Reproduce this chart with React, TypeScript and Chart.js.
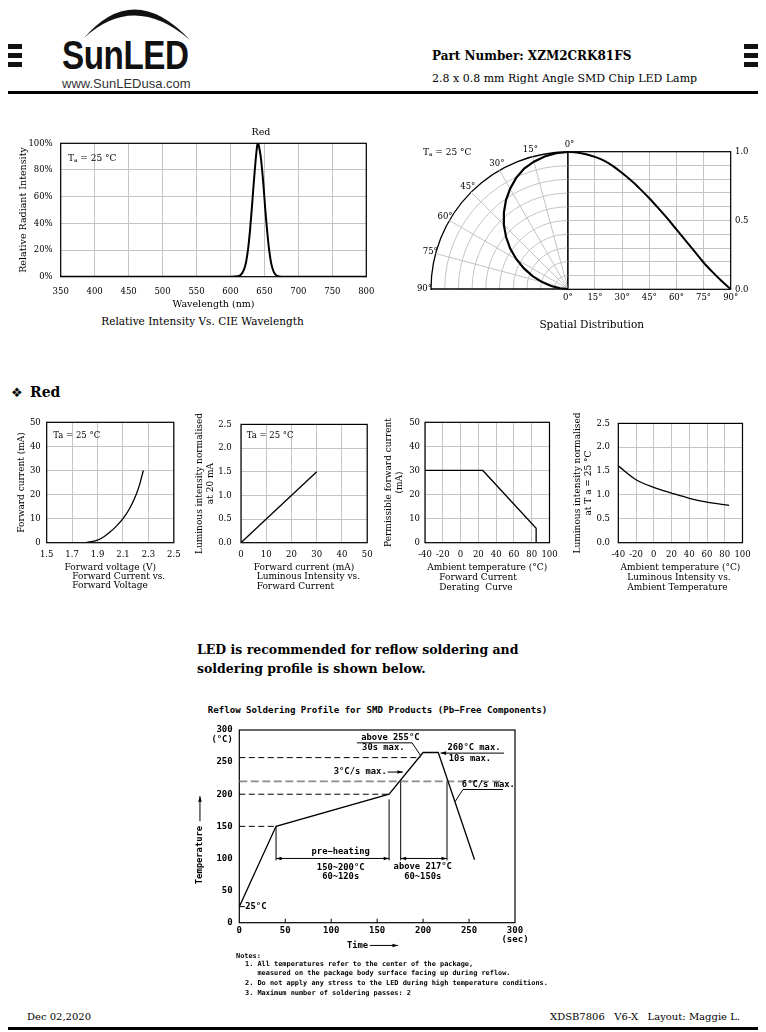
import React, { useEffect, useRef } from 'react';
import { Chart, registerables } from 'chart.js';

Chart.register(...registerables);

const SERIF = '"DejaVu Serif", "Liberation Serif", serif';
const SANS = '"Liberation Sans", Arial, sans-serif';
const MONO = '"DejaVu Sans Mono", "Liberation Mono", monospace';
const GRID = '#c4c4c4';

Chart.defaults.color = '#000';
Chart.defaults.font.family = SERIF;

// ---------------- data ----------------
const spectrumWavelength = [350, 600, 610, 615, 620, 623, 626, 629, 632, 635, 637, 639, 640, 641, 643, 645, 647, 649, 651, 653, 655, 657, 660, 663, 666, 670, 675, 800];
const spectrumIntensity = [0, 0, 0.3, 1.3, 5.5, 11, 21, 36, 55, 75, 87, 97, 100, 99.5, 95, 88, 78, 66, 52, 40, 29, 20, 10, 4.5, 1.7, 0.3, 0, 0];

const spatialAngle = [0, 5, 10, 15, 20, 25, 30, 35, 40, 45, 50, 55, 60, 65, 70, 75, 80, 85, 90];
const spatialIntensity = [1.0, 0.995, 0.982, 0.962, 0.935, 0.895, 0.845, 0.79, 0.728, 0.662, 0.59, 0.515, 0.435, 0.355, 0.275, 0.195, 0.125, 0.06, 0];
const spatialLabelAngles = [0, 15, 30, 45, 60, 75, 90];

const ivVoltage = [1.8, 1.85, 1.9, 1.95, 2.0, 2.05, 2.1, 2.15, 2.2, 2.23, 2.26];
const ivCurrent = [0, 0.4, 1.1, 2.5, 4.5, 7.0, 10.0, 14.0, 19.5, 24.0, 30.0];

const livCurrent = [0, 30];
const livIntensity = [0, 1.5];

const deratingTemp = [-40, 25, 85, 85];
const deratingCurrent = [30, 30, 6, 0];

const ltTemp = [-40, -20, 0, 20, 40, 60, 85];
const ltIntensity = [1.61, 1.32, 1.16, 1.04, 0.93, 0.85, 0.78];

const reflowTime = [0, 40, 163, 200, 216.5, 256];
const reflowTemp = [25, 150, 200, 265, 265, 98];
const guideTemp = [150, 200, 257, 220];
const guideEndTime = [40, 163, 197, 287];
const markerTime = [40, 163, 175.6, 226];
const markerTopTemp = [150, 192, 222, 220];
const markerBottomTemp = 97;
const reflowTickTimes = [50, 100, 150, 200, 250];

type Pt = [number, number];
const reflowLeaders: { pts: Pt[]; head: 'none' | 'end' | 'both' }[] = [
  { pts: [[40, 100], [163, 100]], head: 'both' },
  { pts: [[175.6, 100], [226, 100]], head: 'both' },
  { pts: [[128, 280], [188, 280], [197, 261]], head: 'none' },
  { pts: [[288, 264], [219, 264]], head: 'end' },
  { pts: [[161.5, 234.5], [178, 234.5]], head: 'end' },
  { pts: [[287, 207.4], [243.4, 207.4], [235, 189]], head: 'none' },
  { pts: [[0, 25], [6, 25]], head: 'none' },
  { pts: [[-42.8, 158], [-42.8, 197]], head: 'end' },
  { pts: [[142, -35.4], [172.6, -35.4]], head: 'end' },
];
const reflowLabels: { x: number; y: number; text: string; align?: CanvasTextAlign; rotate?: boolean }[] = [
  { x: 164.4, y: 288.3, text: 'above 255°C' },
  { x: 156.7, y: 272.2, text: '30s max.' },
  { x: 255.4, y: 273.1, text: '260°C max.' },
  { x: 251, y: 255.5, text: '10s max.' },
  { x: 160.4, y: 234.3, text: '3°C/s max.', align: 'right' },
  { x: 271, y: 215, text: '6°C/s max.' },
  { x: 110.3, y: 110.3, text: 'pre−heating' },
  { x: 110.3, y: 85, text: '150~200°C' },
  { x: 110.3, y: 70.9, text: '60~120s' },
  { x: 199.6, y: 86.5, text: 'above 217°C' },
  { x: 199.6, y: 71.9, text: '60~150s' },
  { x: 6.5, y: 25, text: '25°C', align: 'left' },
  { x: -7.2, y: 284.8, text: '(°C)', align: 'right' },
  { x: -42.8, y: 105.3, text: 'Temperature', rotate: true },
  { x: 128.6, y: -35.4, text: 'Time' },
];

// ---------------- helpers ----------------
type Rect = { left: number; top: number; width: number; height: number };
type Plot = { l: number; t: number; r: number; b: number };

function layoutFor(c: Rect, p: Plot, yRight = false) {
  return {
    padding: {
      top: p.t - c.top,
      bottom: 0,
      left: yRight ? p.l - c.left : 0,
      right: yRight ? 0 : c.left + c.width - p.r,
    },
    yWidth: yRight ? c.left + c.width - p.r : p.l - c.left,
    xHeight: c.top + c.height - p.b,
  };
}

const font = (size: number, family = SERIF, weight: any = 'normal', lineHeight = 1.2) => ({ size, family, weight, lineHeight });
const xy = (xs: number[], ys: number[]) => xs.map((x, i) => ({ x, y: ys[i] }));

const framePlugin = (width = 1.2) => ({
  id: 'frame',
  beforeDatasetsDraw(chart: any) {
    const { ctx, chartArea: a } = chart;
    ctx.save();
    ctx.strokeStyle = '#000';
    ctx.lineWidth = width;
    ctx.strokeRect(a.left, a.top, a.right - a.left, a.bottom - a.top);
    ctx.restore();
  },
});

const baseOptions = (pad: any) => ({
  responsive: false,
  animation: false,
  layout: { padding: pad },
  plugins: { legend: { display: false }, tooltip: { enabled: false } },
});

// ---------------- chart configs ----------------
const specRect: Rect = { left: 8, top: 118, width: 376, height: 192 };
const specPlot: Plot = { l: 60.7, t: 143.3, r: 370, b: 276.7 };
function spectrumConfig() {
  const L = layoutFor(specRect, specPlot);
  return {
    type: 'line',
    data: {
      datasets: [{
        data: xy(spectrumWavelength, spectrumIntensity), borderColor: '#000', borderWidth: 2,
        pointRadius: 0, fill: false, cubicInterpolationMode: 'monotone',
      }],
    },
    options: {
      ...baseOptions(L.padding),
      scales: {
        x: {
          type: 'linear', min: 350, max: 800,
          ticks: { stepSize: 50, autoSkip: false, maxRotation: 0, padding: 9.6, font: font(8.5) },
          grid: { color: GRID, drawTicks: false }, border: { display: false },
          title: { display: true, text: 'Wavelength (nm)', font: font(9.5), padding: 0 },
          afterFit: (s: any) => { s.height = L.xHeight; },
        },
        y: {
          min: 0, max: 100,
          ticks: { stepSize: 20, autoSkip: false, padding: 8, font: font(8.5), callback: (v: number) => v + '%' },
          grid: { color: GRID, drawTicks: false }, border: { display: false },
          title: { display: true, text: 'Relative Radiant Intensity', font: font(9.5), padding: { top: 9.6, bottom: 0 } },
          afterFit: (s: any) => { s.width = L.yWidth; },
        },
      },
    },
    plugins: [framePlugin(1.2)],
  };
}

const spatRect: Rect = { left: 560, top: 140, width: 200, height: 165 };
const spatPlot: Plot = { l: 567.7, t: 151.7, r: 730.7, b: 289.3 };
function spatialConfig() {
  const L = layoutFor(spatRect, spatPlot, true);
  return {
    type: 'line',
    data: {
      datasets: [{
        data: xy(spatialAngle, spatialIntensity), borderColor: '#000', borderWidth: 2,
        pointRadius: 0, fill: false, cubicInterpolationMode: 'monotone',
      }],
    },
    options: {
      ...baseOptions(L.padding),
      scales: {
        x: {
          type: 'linear', min: 0, max: 90,
          ticks: { stepSize: 15, autoSkip: false, maxRotation: 0, padding: 3, font: font(8.5), callback: (v: number) => v + '°' },
          grid: { color: GRID, drawTicks: false }, border: { display: false },
          afterFit: (s: any) => { s.height = L.xHeight; },
        },
        y: {
          position: 'right', min: 0, max: 1,
          ticks: {
            stepSize: 0.1, autoSkip: false, padding: 4.3, font: font(8.5),
            callback: (v: number) => (Math.abs(v * 2 - Math.round(v * 2)) < 1e-6 ? v.toFixed(1) : ''),
          },
          grid: { color: GRID, drawTicks: false }, border: { display: false },
          afterFit: (s: any) => { s.width = L.yWidth; },
        },
      },
    },
    plugins: [framePlugin(1.2)],
  };
}

const RADAR_STEPS = 72;
const radarRect: Rect = { left: 411, top: 132, width: 314, height: 314 };
function radarConfig() {
  const values: (number | null)[] = new Array(RADAR_STEPS).fill(null);
  spatialAngle.forEach((a, i) => { values[(RADAR_STEPS - a / 5) % RADAR_STEPS] = spatialIntensity[i]; });
  const labels = Array.from({ length: RADAR_STEPS }, (_, i) => String(i * 5));
  const leftIndex = (i: number) => i === 0 || i >= 54;
  return {
    type: 'radar',
    data: {
      labels,
      datasets: [{ data: values, borderColor: '#000', borderWidth: 2.2, pointRadius: 0, fill: false, spanGaps: false, tension: 0 }],
    },
    options: {
      ...baseOptions(20),
      scales: {
        r: {
          min: 0, max: 1, startAngle: 0,
          ticks: { display: false, stepSize: 0.1 },
          pointLabels: { display: false },
          grid: {
            circular: true,
            color: (c: any) => (c.tick && c.tick.value > 0.999 ? '#000' : GRID),
            lineWidth: (c: any) => (c.tick && c.tick.value > 0.999 ? 1.3 : 1),
          },
          angleLines: {
            display: true,
            color: (c: any) => {
              const i = c.index;
              if (i === 0 || i === 54) return '#000';
              if (leftIndex(i) && i % 3 === 0) return GRID;
              return 'rgba(0,0,0,0)';
            },
            lineWidth: (c: any) => (c.index === 54 ? 1.5 : 1),
          },
        },
      },
    },
    plugins: [{
      id: 'quadClip',
      beforeDraw(chart: any) {
        const s = chart.scales.r;
        const ctx = chart.ctx;
        ctx.save();
        ctx.beginPath();
        ctx.rect(0, 0, s.xCenter + 0.8, s.yCenter + 1);
        ctx.clip();
      },
      afterDraw(chart: any) {
        const ctx = chart.ctx;
        ctx.restore();
        const s = chart.scales.r;
        ctx.save();
        ctx.font = `8.5px ${SERIF}`;
        ctx.fillStyle = '#000';
        ctx.textBaseline = 'middle';
        spatialLabelAngles.forEach((a) => {
          const idx = (RADAR_STEPS - a / 5) % RADAR_STEPS;
          const p = s.getPointPosition(idx, s.drawingArea);
          const c = Math.cos((a * Math.PI) / 180);
          if (a === 0) {
            ctx.textAlign = 'center';
            ctx.fillText('0°', p.x + 1.5, p.y - 7);
          } else {
            ctx.textAlign = 'right';
            ctx.fillText(a + '°', p.x + 1 + 4.5 * c, p.y - 7 * c);
          }
        });
        ctx.restore();
      },
    }],
  };
}

type SmallSpec = {
  rect: Rect; plot: Plot; xs: number[]; ys: number[];
  xMin: number; xMax: number; xStep: number; xDec: number;
  yMax: number; yStep: number; yDec: number;
  yTitle: string | string[]; yTitlePad: number; yTickPad: number; xTitle: string; smooth: boolean;
};
function smallConfig(sp: SmallSpec) {
  const L = layoutFor(sp.rect, sp.plot);
  return {
    type: 'line',
    data: {
      datasets: [{
        data: xy(sp.xs, sp.ys), borderColor: '#000', borderWidth: 1.3, pointRadius: 0, fill: false,
        cubicInterpolationMode: sp.smooth ? 'monotone' : 'default', tension: 0,
      }],
    },
    options: {
      ...baseOptions(L.padding),
      scales: {
        x: {
          type: 'linear', min: sp.xMin, max: sp.xMax,
          ticks: { stepSize: sp.xStep, autoSkip: false, maxRotation: 0, padding: 7.4, font: font(8.5), callback: (v: number) => v.toFixed(sp.xDec) },
          grid: { color: GRID, drawTicks: false }, border: { display: false },
          title: { display: true, text: sp.xTitle, font: font(9), padding: 0 },
          afterFit: (s: any) => { s.height = L.xHeight; },
        },
        y: {
          min: 0, max: sp.yMax,
          ticks: { stepSize: sp.yStep, autoSkip: false, padding: sp.yTickPad, font: font(8.5), callback: (v: number) => v.toFixed(sp.yDec) },
          grid: { color: GRID, drawTicks: false }, border: { display: false },
          title: { display: true, text: sp.yTitle, font: font(9), padding: { top: sp.yTitlePad, bottom: 0 } },
          afterFit: (s: any) => { s.width = L.yWidth; },
        },
      },
    },
    plugins: [framePlugin(1.2)],
  };
}

const smallTop = 410;
const smallHeight = 163;
const smallPlotT = 422.3;
const smallPlotB = 542.7;
const small1: SmallSpec = {
  rect: { left: 8, top: smallTop, width: 180, height: smallHeight }, plot: { l: 46.7, t: smallPlotT, r: 175.7, b: smallPlotB },
  xs: ivVoltage, ys: ivCurrent, xMin: 1.5, xMax: 2.5, xStep: 0.2, xDec: 1, yMax: 50, yStep: 10, yDec: 0,
  yTitle: 'Forward current (mA)', yTitlePad: 8, yTickPad: 6, xTitle: 'Forward voltage (V)', smooth: true,
};
const small2: SmallSpec = {
  rect: { left: 190, top: smallTop, width: 190, height: smallHeight }, plot: { l: 241, t: smallPlotT, r: 367.7, b: smallPlotB },
  xs: livCurrent, ys: livIntensity, xMin: 0, xMax: 50, xStep: 10, xDec: 0, yMax: 2.5, yStep: 0.5, yDec: 1,
  yTitle: ['Luminous intensity normalised', 'at 20 mA'], yTitlePad: 4.3, yTickPad: 9.3, xTitle: 'Forward current (mA)', smooth: false,
};
const small3: SmallSpec = {
  rect: { left: 380, top: smallTop, width: 185, height: smallHeight }, plot: { l: 425, t: smallPlotT, r: 553.3, b: smallPlotB },
  xs: deratingTemp, ys: deratingCurrent, xMin: -40, xMax: 100, xStep: 20, xDec: 0, yMax: 50, yStep: 10, yDec: 0,
  yTitle: ['Permissible forward current', '(mA)'], yTitlePad: 3.3, yTickPad: 5, xTitle: 'Ambient temperature (°C)', smooth: false,
};
const small4: SmallSpec = {
  rect: { left: 566, top: smallTop, width: 192, height: smallHeight }, plot: { l: 618.3, t: smallPlotT, r: 744.3, b: smallPlotB },
  xs: ltTemp, ys: ltIntensity, xMin: -40, xMax: 100, xStep: 20, xDec: 0, yMax: 2.5, yStep: 0.5, yDec: 1,
  yTitle: ['Luminous intensity normalised', 'at T a = 25 °C'], yTitlePad: 6.6, yTickPad: 8.3, xTitle: 'Ambient temperature (°C)', smooth: true,
};

const reflowRect: Rect = { left: 190, top: 718, width: 370, height: 234 };
const reflowPlot: Plot = { l: 239.3, t: 725, r: 515, b: 922.7 };
function reflowConfig() {
  const L = layoutFor(reflowRect, reflowPlot);
  const seg = (pts: { x: number; y: number }[], color: string, width: number, dash: number[]) => ({
    data: pts, borderColor: color, borderWidth: width, borderDash: dash, pointRadius: 0, fill: false, tension: 0,
  });
  const datasets: any[] = [seg(xy(reflowTime, reflowTemp), '#000', 1.3, [])];
  guideTemp.forEach((t, i) => {
    const gray = t === 220;
    datasets.push(seg([{ x: 0, y: t }, { x: guideEndTime[i], y: t }], gray ? '#8c8c8c' : '#000', gray ? 1.6 : 1, gray ? [8, 3.5] : [6, 3.5]));
  });
  markerTime.forEach((m, i) => {
    datasets.push(seg([{ x: m, y: markerBottomTemp }, { x: m, y: markerTopTemp[i] }], '#000', 1, []));
  });
  const annot = {
    id: 'reflowNotes',
    afterDatasetsDraw(chart: any) {
      const { ctx, scales: { x, y }, chartArea: a } = chart;
      const px = (t: number) => x.getPixelForValue(t);
      const py = (v: number) => y.getPixelForValue(v);
      ctx.save();
      ctx.strokeStyle = '#000';
      ctx.fillStyle = '#000';
      ctx.lineWidth = 1;
      reflowTickTimes.forEach((t) => {
        ctx.beginPath();
        ctx.moveTo(px(t), a.bottom);
        ctx.lineTo(px(t), a.bottom - 4);
        ctx.stroke();
      });
      const head = (x1: number, y1: number, x2: number, y2: number) => {
        const ang = Math.atan2(y2 - y1, x2 - x1);
        const len = 5.5, w = 1.8;
        ctx.beginPath();
        ctx.moveTo(x2, y2);
        ctx.lineTo(x2 - len * Math.cos(ang) + w * Math.sin(ang), y2 - len * Math.sin(ang) - w * Math.cos(ang));
        ctx.lineTo(x2 - len * Math.cos(ang) - w * Math.sin(ang), y2 - len * Math.sin(ang) + w * Math.cos(ang));
        ctx.closePath();
        ctx.fill();
      };
      reflowLeaders.forEach((l) => {
        const p = l.pts.map(([t, v]) => [px(t), py(v)]);
        ctx.beginPath();
        p.forEach(([X, Y], i) => (i ? ctx.lineTo(X, Y) : ctx.moveTo(X, Y)));
        ctx.stroke();
        const n = p.length;
        if (l.head === 'end' || l.head === 'both') head(p[n - 2][0], p[n - 2][1], p[n - 1][0], p[n - 1][1]);
        if (l.head === 'both') head(p[1][0], p[1][1], p[0][0], p[0][1]);
      });
      ctx.font = `bold 8.8px ${MONO}`;
      ctx.textBaseline = 'middle';
      reflowLabels.forEach((lb) => {
        ctx.save();
        ctx.translate(px(lb.x), py(lb.y));
        if (lb.rotate) ctx.rotate(-Math.PI / 2);
        ctx.textAlign = lb.align || 'center';
        ctx.fillText(lb.text, 0, 0);
        ctx.restore();
      });
      ctx.restore();
    },
  };
  return {
    type: 'line',
    data: { datasets },
    options: {
      ...baseOptions(L.padding),
      scales: {
        x: {
          type: 'linear', min: 0, max: 300,
          ticks: {
            stepSize: 50, autoSkip: false, maxRotation: 0, padding: 3, font: font(9, MONO, 'bold', 1.0),
            callback: (v: number) => (v === 300 ? ['300', '(sec)'] : String(v)),
          },
          grid: { display: false, drawTicks: false }, border: { display: false },
          afterFit: (s: any) => { s.height = L.xHeight; },
        },
        y: {
          min: 0, max: 300,
          ticks: { stepSize: 50, autoSkip: false, padding: 6.6, font: font(9, MONO, 'bold') },
          grid: { display: false, drawTicks: false }, border: { display: false },
          afterFit: (s: any) => { s.width = L.yWidth; },
        },
      },
    },
    plugins: [framePlugin(1.2), annot],
  };
}

// ---------------- components ----------------
function ChartCanvas({ rect, build }: { rect: Rect; build: () => any }) {
  const ref = useRef<HTMLCanvasElement>(null);
  useEffect(() => {
    const chart = new Chart(ref.current as HTMLCanvasElement, build());
    return () => chart.destroy();
  }, []);
  return (
    <canvas
      ref={ref}
      width={rect.width}
      height={rect.height}
      style={{ position: 'absolute', left: rect.left, top: rect.top, width: rect.width, height: rect.height }}
    />
  );
}

function Txt({ x, y, s = 10, b = false, f = SERIF, a = 'left', c = '#000', children, extra }: any) {
  const tx = a === 'center' ? '-50%' : a === 'right' ? '-100%' : '0';
  return (
    <div
      style={{
        position: 'absolute', left: x, top: y, fontSize: s, fontWeight: b ? 'bold' : 'normal', fontFamily: f,
        color: c, whiteSpace: 'pre', lineHeight: 1, transform: `translate(${tx}, -50%)`, ...extra,
      }}
    >
      {children}
    </div>
  );
}

const Ta = () => (
  <span>
    T<span style={{ fontSize: '0.65em', position: 'relative', top: '0.25em' }}>a</span> = 25 °C
  </span>
);

function Bars({ x }: { x: number }) {
  return (
    <>
      {[44, 53, 62].map((t) => (
        <div key={t} style={{ position: 'absolute', left: x, top: t, width: 14, height: 5, background: '#111' }} />
      ))}
    </>
  );
}

export default function App() {
  return (
    <div style={{ position: 'absolute', left: 0, top: 0, width: 766, height: 1032, background: '#fff', overflow: 'hidden' }}>
      {/* header */}
      <Bars x={8} />
      <Bars x={744} />
      <svg style={{ position: 'absolute', left: 0, top: 0 }} width={220} height={50}>
        <path d="M 84 38 Q 134 -20 190 40 Q 134 -8 84 38 Z" fill="#111" />
      </svg>
      <Txt x={62} y={55} s={40} b f={SANS} c="#111" extra={{ transform: 'translate(0,-50%) scaleX(0.83)', transformOrigin: 'left center', letterSpacing: -0.5 }}>SunLED</Txt>
      <Txt x={62} y={83} s={13} f={SANS} c="#333">www.SunLEDusa.com</Txt>
      <Txt x={432} y={56} s={12} b>Part Number: XZM2CRK81FS</Txt>
      <Txt x={432} y={78} s={11}>2.8 x 0.8 mm Right Angle SMD Chip LED Lamp</Txt>
      <div style={{ position: 'absolute', left: 8, top: 91, width: 750, height: 2.5, background: '#000' }} />

      {/* charts */}
      <ChartCanvas rect={specRect} build={spectrumConfig} />
      <ChartCanvas rect={spatRect} build={spatialConfig} />
      <ChartCanvas rect={radarRect} build={radarConfig} />
      <ChartCanvas rect={small1.rect} build={() => smallConfig(small1)} />
      <ChartCanvas rect={small2.rect} build={() => smallConfig(small2)} />
      <ChartCanvas rect={small3.rect} build={() => smallConfig(small3)} />
      <ChartCanvas rect={small4.rect} build={() => smallConfig(small4)} />
      <ChartCanvas rect={reflowRect} build={reflowConfig} />

      {/* chart texts */}
      <Txt x={261} y={132} s={9.5} a="center">Red</Txt>
      <Txt x={68} y={158} s={9}><Ta /></Txt>
      <Txt x={202.5} y={320.7} s={10.5} a="center">Relative Intensity Vs. CIE Wavelength</Txt>
      <Txt x={423} y={152} s={9}><Ta /></Txt>
      <Txt x={591.7} y={324.3} s={10.5} a="center">Spatial Distribution</Txt>

      <Txt x={11} y={392} s={13} f='"DejaVu Sans", sans-serif'>❖</Txt>
      <Txt x={30} y={392} s={14} b>Red</Txt>

      <Txt x={53.3} y={435} s={8.5}>Ta = 25 °C</Txt>
      <Txt x={246.7} y={435} s={8.5}>Ta = 25 °C</Txt>
      <Txt x={72.3} y={575.7} s={9}>Forward Current vs.</Txt>
      <Txt x={72.3} y={585.2} s={9}>Forward Voltage</Txt>
      <Txt x={256.7} y={576} s={9}>Luminous Intensity vs.</Txt>
      <Txt x={256.7} y={586} s={9}>Forward Current</Txt>
      <Txt x={439.3} y={577.3} s={9}>Forward Current</Txt>
      <Txt x={439.3} y={586.7} s={9}>Derating  Curve</Txt>
      <Txt x={627.3} y={577} s={9}>Luminous Intensity vs.</Txt>
      <Txt x={627.3} y={586.5} s={9}>Ambient Temperature</Txt>

      <Txt x={197} y={650} s={12.5} b>LED is recommended for reflow soldering and</Txt>
      <Txt x={197} y={669} s={12.5} b>soldering profile is shown below.</Txt>

      <Txt x={377.5} y={710.5} s={9.1} b f={MONO} a="center">Reflow Soldering Profile for SMD Products (Pb−Free Components)</Txt>

      <Txt x={236} y={956} s={6.9} b f={MONO}>Notes:</Txt>
      <Txt x={245} y={964} s={6.9} b f={MONO}>1. All temperatures refer to the center of the package,</Txt>
      <Txt x={245} y={973} s={6.9} b f={MONO}>   measured on the package body surface facing up during reflow.</Txt>
      <Txt x={245} y={983} s={6.9} b f={MONO}>2. Do not apply any stress to the LED during high temperature conditions.</Txt>
      <Txt x={245} y={993} s={6.9} b f={MONO}>3. Maximum number of soldering passes: 2</Txt>

      {/* footer */}
      <Txt x={27} y={1017} s={10}>Dec 02,2020</Txt>
      <Txt x={740} y={1017} s={10} a="right">XDSB7806   V6-X   Layout: Maggie L.</Txt>
      <div style={{ position: 'absolute', left: 8, top: 1027, width: 750, height: 2.5, background: '#000' }} />
    </div>
  );
}
